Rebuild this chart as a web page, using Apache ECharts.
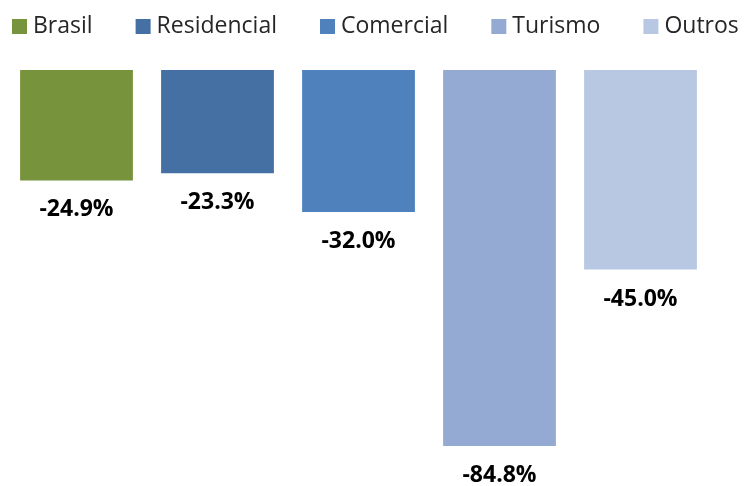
<!DOCTYPE html>
<html><head><meta charset="utf-8">
<script src="https://cdn.jsdelivr.net/npm/echarts@6/dist/echarts.min.js"></script>
<style>html,body{margin:0;padding:0;background:#fff}#c{width:745px;height:486px}</style>
</head><body><div id="c"></div>
<script>
const categories = ['Brasil', 'Residencial', 'Comercial', 'Turismo', 'Outros'];
const values = [-24.9, -23.3, -32.0, -84.8, -45.0];
const colors = ['#77933C', '#4470A4', '#4F81BD', '#95AAD3', '#B9C8E2'];

const chart = echarts.init(document.getElementById('c'));
const series = categories.map((name, i) => ({
  name: name,
  type: 'bar',
  stack: 'all',
  barWidth: '80%',
  itemStyle: { color: colors[i] },
  data: categories.map((_, j) => j === i ? values[i] : null),
  label: {
    show: true,
    position: 'bottom',
    distance: 18,
    formatter: p => p.value.toFixed(1) + '%',
    fontFamily: 'Open Sans',
    fontWeight: 'bold',
    fontSize: 23,
    color: '#000'
  }
}));
chart.setOption({
  animation: false,
  legend: {
    left: 7, top: 10, width: 738, padding: [5, 0, 5, 5],
    itemWidth: 15, itemHeight: 15, itemGap: 43,
    icon: 'rect',
    textStyle: { fontFamily: 'Open Sans', fontSize: 23, color: '#262626', padding: [0, 0, 0, 1] },
    data: categories
  },
  grid: { left: 6, right: 34, top: 70, bottom: 40 },
  xAxis: { type: 'category', data: categories, show: false },
  yAxis: { type: 'value', min: -84.8, max: 0, show: false, splitLine: { show: false } },
  series: series
});
</script></body></html>
